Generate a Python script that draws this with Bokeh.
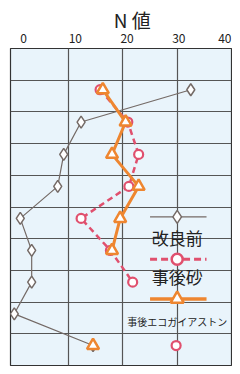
from bokeh.plotting import figure
from bokeh.models import Range1d, FixedTicker, Label, ColumnDataSource, Grid
from bokeh.layouts import column
from bokeh.embed import file_html
from bokeh.resources import INLINE
import numpy as np

# ---- data ----
depth = [1.3, 2.32, 3.34, 4.35, 5.36, 6.37, 7.37, 8.37, 9.37]
n_before = [32.5, 12.3, 9.1, 8.0, 1.1, 3.2, 3.2, 0.0, 14.5]
n_sand = [15.8, 20.9, 22.9, 21.1, 12.3, 17.7, 21.8, np.nan, 29.8]
n_eco = [16.3, 20.5, 18.0, 22.9, 19.5, 18.0, np.nan, np.nan, 14.5]
x_ticks = [0, 10, 20, 30, 40]
x_title = "N 値"
series_names = ["改良前", "事後砂", "事後エコガイアストン"]

GRAY = "#746a66"
PINK = "#e0506e"
ORANGE = "#ee8630"
BG = "#e9f4fb"
GRID = "#555555"
FONT = "Noto Sans CJK JP"

# layout constants
W = 232
HEAD_H = 48
MAIN_H = 366 - HEAD_H
BL, BR, BB = 10, 1, 1
X0, X1 = -0.7, 40.0

# ---- main chart ----
p = figure(width=W, height=MAIN_H, output_backend="svg", toolbar_location=None,
           x_range=Range1d(X0, X1), y_range=Range1d(10, 0),
           x_axis_location=None, y_axis_location=None,
           min_border_left=BL, min_border_right=BR, min_border_bottom=BB, min_border_top=0)
p.background_fill_color = BG
p.border_fill_color = "white"
p.outline_line_color = "#333333"
p.outline_line_width = 1.2

p.xgrid.visible = False
p.ygrid.visible = False
p.add_layout(Grid(dimension=0, ticker=FixedTicker(ticks=x_ticks[1:-1]),
                  grid_line_color=GRID, grid_line_width=1.2))
p.add_layout(Grid(dimension=1, ticker=FixedTicker(ticks=list(range(1, 10))),
                  grid_line_color=GRID, grid_line_width=1.2))

src = ColumnDataSource(dict(d=depth, b=n_before, s=n_sand, e=n_eco))

p.line("b", "d", source=src, line_color=GRAY, line_width=1.2)
p.line("s", "d", source=src, line_color=PINK, line_width=2.5, line_dash="6 4")
p.line("e", "d", source=src, line_color=ORANGE, line_width=3)
p.scatter("b", "d", source=src, marker="diamond", size=12, fill_color="white",
          line_color=GRAY, line_width=1.5)
p.scatter("s", "d", source=src, marker="circle", size=9, fill_color="white",
          line_color=PINK, line_width=2.2)
p.scatter("e", "d", source=src, marker="triangle", size=12, fill_color="white",
          line_color=ORANGE, line_width=2.5)

# ---- legend (layout positions) ----
LX0, LX1, LXC = 25.0, 35.4, 30.0
leg_y = [5.31, 6.65, 7.9]
lab_y = [5.95, 7.2, 8.6]
styles = [
    dict(color=GRAY, width=1.2, dash="solid", marker="diamond", size=13, lw=1.5),
    dict(color=PINK, width=3, dash="7 4", marker="circle", size=11, lw=2.5),
    dict(color=ORANGE, width=3.5, dash="solid", marker="triangle", size=13, lw=2.5),
]
fsizes = ["17px", "17px", "10px"]
for name, ly, ty, st, fs in zip(series_names, leg_y, lab_y, styles, fsizes):
    p.segment(x0=LX0, y0=ly, x1=LX1, y1=ly, line_color=st["color"],
              line_width=st["width"], line_dash=st["dash"])
    p.scatter(x=[LXC], y=[ly], marker=st["marker"], size=st["size"],
              fill_color="white", line_color=st["color"], line_width=st["lw"])
    p.add_layout(Label(x=LXC, y=ty, text=name, text_align="center",
                       text_baseline="middle", text_font=FONT,
                       text_font_size=fs, text_color="#222222"))

# ---- header strip: top axis tick labels and title, aligned to main x scale ----
per_px = (X1 - X0) / (W - BL - BR)
hx0 = X0 - BL * per_px
hx1 = hx0 + W * per_px
h = figure(width=W, height=HEAD_H, output_backend="svg", toolbar_location=None,
           x_range=Range1d(hx0, hx1), y_range=Range1d(HEAD_H, 0),
           x_axis_location=None, y_axis_location=None,
           min_border_left=0, min_border_right=0, min_border_top=0, min_border_bottom=0)
h.outline_line_color = None
h.background_fill_color = "white"
h.border_fill_color = "white"
h.xgrid.visible = False
h.ygrid.visible = False
TICK_Y = 38
TITLE_Y = 19
TITLE_X = 21.0
for t in x_ticks:
    last = t == x_ticks[-1]
    h.add_layout(Label(x=hx1 if last else t, y=TICK_Y, text=str(t),
                       text_align="right" if last else "center",
                       text_baseline="middle", text_font=FONT,
                       text_font_size="12px", text_color="#222222"))
h.add_layout(Label(x=TITLE_X, y=TITLE_Y, text=x_title, text_align="center",
                   text_baseline="middle", text_font=FONT,
                   text_font_size="19px", text_color="#222222"))

layout = column(h, p, spacing=0)
open("out.html", "w").write(file_html(layout, INLINE))
